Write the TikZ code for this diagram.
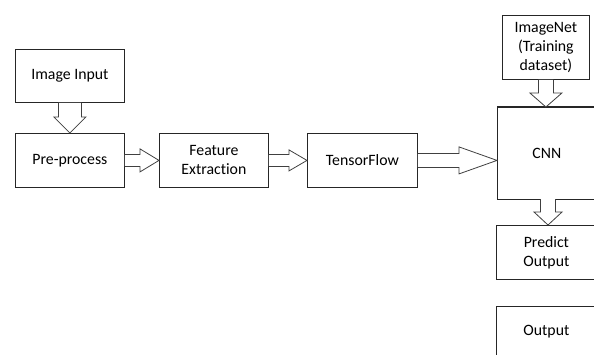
\documentclass[tikz,border=0pt]{standalone}
\usepackage{fontspec}
\setmainfont{Carlito}[Ligatures={NoCommon}]
\usetikzlibrary{calc}
\begin{document}
\begin{tikzpicture}[x=1pt,y=-1pt,
  box/.style={draw=black!85, line width=0.8pt, fill=white, inner sep=0pt, anchor=north west, align=center,
    font=\fontsize{15.8}{19}\selectfont},
  blockarrow/.style={draw=black!75, line width=0.8pt, fill=white, line join=miter}]
\useasboundingbox (0,0) rectangle (594,354);
\clip (0,0) rectangle (594,354);
\fill[white] (0,0) rectangle (594,354);
% boxes
\node[box, minimum width=109, minimum height=53] (img) at (15,49) {Image Input};
\node[box, minimum width=109, minimum height=54] (pre) at (15,133) {Pre-process};
\node[box, minimum width=109, minimum height=54] (feat) at (159,133) {Feature\\Extraction};
\node[box, minimum width=110, minimum height=54] (tf) at (307,133) {TensorFlow};
\node[box, minimum width=99, minimum height=92] (cnn) at (497,107) {CNN};
\node[box, minimum width=87, minimum height=64] (inet) at (502,15) {ImageNet\\(Training\\dataset)};
\node[box, minimum width=100, minimum height=54] (pred) at (496,225) {Predict\\Output};
\node[box, minimum width=100, minimum height=50] (out) at (496,306) {Output};
\draw[black!85, line width=1.6pt] (cnn.north west) -- (cnn.north east);
% vertical arrow img -> pre
\draw[blockarrow] ($(img.south)+(-11.5,0)$) -- ($(pre.north)+(-11.5,-16)$) -- ($(pre.north)+(-16,-16)$)
  -- (pre.north) -- ($(pre.north)+(16,-16)$) -- ($(pre.north)+(11.5,-16)$) -- ($(img.south)+(11.5,0)$);
% pre -> feat
\draw[blockarrow] ($(pre.east)+(0,-6)$) -- ($(feat.west)+(-19,-6)$) -- ($(feat.west)+(-19,-11.5)$)
  -- (feat.west) -- ($(feat.west)+(-19,11.5)$) -- ($(feat.west)+(-19,6)$) -- ($(pre.east)+(0,6)$);
% feat -> tf
\draw[blockarrow] ($(feat.east)+(0,-6)$) -- ($(tf.west)+(-18,-6)$) -- ($(tf.west)+(-18,-10.5)$)
  -- (tf.west) -- ($(tf.west)+(-18,10.5)$) -- ($(tf.west)+(-18,6)$) -- ($(feat.east)+(0,6)$);
% tf -> cnn
\coordinate (cnnin) at (cnn.west |- tf.east);
\draw[blockarrow] ($(tf.east)+(0,-7)$) -- ($(cnnin)+(-38,-7)$) -- ($(cnnin)+(-38,-13.5)$)
  -- (cnnin) -- ($(cnnin)+(-38,13.5)$) -- ($(cnnin)+(-38,7)$) -- ($(tf.east)+(0,7)$);
% inet -> cnn
\coordinate (cnntop) at (inet.south |- cnn.north);
\draw[blockarrow] ($(inet.south)+(-7.5,0)$) -- ($(cnntop)+(-7.5,-14)$) -- ($(cnntop)+(-16,-14)$)
  -- (cnntop) -- ($(cnntop)+(16,-14)$) -- ($(cnntop)+(7.5,-14)$) -- ($(inet.south)+(7.5,0)$);
% cnn -> pred
\coordinate (cnnbot) at (548,199);
\coordinate (predtop) at (cnnbot |- pred.north);
\draw[blockarrow] ($(cnnbot)+(-7.5,0)$) -- ($(predtop)+(-7.5,-13)$) -- ($(predtop)+(-14,-13)$)
  -- (predtop) -- ($(predtop)+(14,-13)$) -- ($(predtop)+(7.5,-13)$) -- ($(cnnbot)+(7.5,0)$);
\end{tikzpicture}
\end{document}
